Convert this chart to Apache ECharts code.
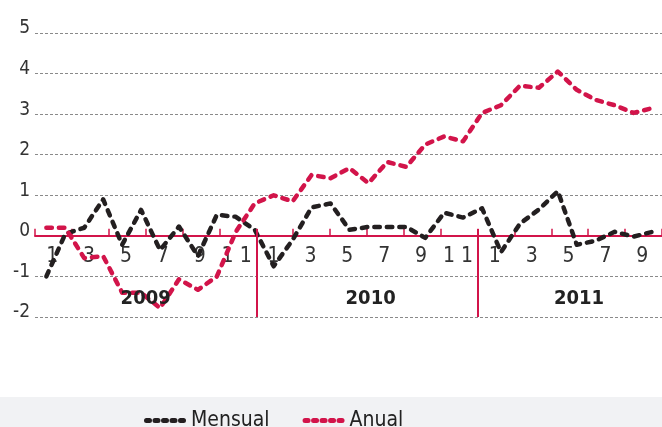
<!DOCTYPE html>
<html>
<head>
<meta charset="utf-8">
<script src="https://cdn.jsdelivr.net/npm/echarts@6/dist/echarts.min.js"></script>
<style>
  html, body { margin: 0; padding: 0; background: #fff; }
  #chart { width: 662px; height: 427px; }
</style>
</head>
<body>
<div id="chart"></div>
<script>
// años y etiquetas de meses (solo impares)
const years = ['2009', '2010', '2011'];
const tickLabels = ['1', '', '3', '', '5', '', '7', '', '9', '', '1 1', ''];

// ene 2009 - sep 2011
const mensual = [
  -1.0, 0.05, 0.2, 0.9, -0.22, 0.64, -0.35, 0.23, -0.5, 0.52, 0.47, 0.15,
  -0.75, -0.1, 0.7, 0.8, 0.15, 0.22, 0.22, 0.22, -0.05, 0.57, 0.45, 0.68,
  -0.4, 0.3, 0.65, 1.1, -0.22, -0.12, 0.1, -0.02, 0.1
];
const anual = [
  0.2, 0.2, -0.55, -0.5, -1.4, -1.4, -1.78, -1.07, -1.33, -1.0, 0.1, 0.8,
  1.0, 0.85, 1.5, 1.42, 1.67, 1.3, 1.82, 1.7, 2.25, 2.45, 2.33, 3.03,
  3.22, 3.7, 3.65, 4.05, 3.6, 3.35, 3.22, 3.03, 3.15
];

// cortes de año (meses desde ene 2009) y centro de cada rótulo
const yearBreaks = [12, 24];
const yearLabelAt = [6, 18.2, 29.5];

const RED = '#d2144a';
const BLACK = '#231f20';
const FONT = "'DejaVu Sans Condensed', 'DejaVu Sans', sans-serif";

// alto del grid y desplazamiento del eje x hasta el cero
const GRID_TOP = 33, GRID_BOTTOM = 110, GRID_H = 427 - GRID_TOP - GRID_BOTTOM;
const Y_MIN = -2, Y_MAX = 5;
const zeroFromBottom = GRID_H * (0 - Y_MIN) / (Y_MAX - Y_MIN);

// categorías del eje (34 casillas, ene 2009 - oct 2011)
let categories = [];
years.forEach(y => {
  for (let m = 1; m <= 12; m++) categories.push(y + '-' + m);
});
categories = categories.slice(0, 34);

// icono de leyenda: cinco píldoras
const pill = x => `M${x + 2.5},0 h3 a2.5,2.5 0 0 1 0,5 h-3 a2.5,2.5 0 0 1 0,-5 z`;
const legendIcon = 'path://' + [0, 8.5, 17, 25.5, 34].map(pill).join(' ');

const chart = echarts.init(document.getElementById('chart'));

const option = {
  animation: false,
  grid: { left: 35, right: 0, top: GRID_TOP, bottom: GRID_BOTTOM },
  graphic: [{
    type: 'rect',
    left: 0, bottom: 0,
    shape: { width: 662, height: 30 },
    style: { fill: '#f1f2f4' },
    z: -1
  }],
  legend: {
    data: [
      { name: 'Mensual', icon: legendIcon },
      { name: 'Anual', icon: legendIcon }
    ],
    left: 139,
    top: 405,
    itemWidth: 42,
    itemHeight: 6,
    itemGap: 33,
    itemStyle: { borderWidth: 0 },
    textStyle: { fontFamily: FONT, fontSize: 21, color: '#222' }
  },
  xAxis: [
    {
      type: 'category',
      data: categories,
      boundaryGap: true,
      offset: -zeroFromBottom,
      axisLine: { onZero: false, lineStyle: { color: RED, width: 2 } },
      axisTick: { interval: 1, length: 6, lineStyle: { color: RED, width: 1.5 } },
      axisLabel: {
        interval: 0,
        formatter: (v, i) => tickLabels[i % 12],
        color: '#333',
        fontFamily: FONT,
        fontSize: 21,
        margin: 10,
        padding: [0, 0, 0, 16]
      },
      splitLine: { show: false }
    },
    {
      // marcas hacia arriba + cortes de año
      type: 'value',
      position: 'top',
      offset: -(GRID_H - zeroFromBottom),
      min: 0,
      max: 34,
      interval: 2,
      axisLine: { show: false, onZero: false },
      axisTick: { show: true, length: 7, lineStyle: { color: RED, width: 1.5 } },
      axisLabel: { show: false },
      splitLine: { show: false }
    },
    {
      // eje de los datos
      type: 'value',
      min: -0.6,
      max: 32.5,
      show: false
    }
  ],
  yAxis: {
    type: 'value',
    min: Y_MIN,
    max: Y_MAX,
    interval: 1,
    axisLine: { show: false },
    axisTick: { show: false },
    axisLabel: {
      color: '#333',
      fontFamily: FONT,
      fontSize: 19,
      margin: 5,
      verticalAlign: 'bottom',
      lineHeight: 9
    },
    splitLine: { lineStyle: { color: '#8a8a8a', width: 1, type: [3, 2] } }
  },
  series: [
    {
      name: 'Mensual',
      type: 'line',
      xAxisIndex: 2,
      data: mensual.map((v, i) => [i, v]),
      symbol: 'none',
      itemStyle: { color: BLACK },
      lineStyle: { color: BLACK, width: 4.5, type: [5.5, 7], cap: 'round', join: 'round' },
      z: 3
    },
    {
      name: 'Anual',
      type: 'line',
      xAxisIndex: 2,
      data: anual.map((v, i) => [i, v]),
      symbol: 'none',
      itemStyle: { color: RED },
      lineStyle: { color: RED, width: 4.5, type: [5.5, 7], cap: 'round', join: 'round' },
      z: 4
    },
    {
      name: 'años',
      type: 'scatter',
      xAxisIndex: 1,
      symbolSize: 0,
      itemStyle: { opacity: 1 },
      data: yearLabelAt.map((x, i) => ({ name: years[i], value: [x, -1.55] })),
      label: {
        show: true,
        position: 'inside',
        formatter: '{b}',
        fontFamily: FONT,
        fontWeight: 'bold',
        fontSize: 20,
        color: '#222'
      },
      markLine: {
        silent: true,
        symbol: ['none', 'none'],
        label: { show: false },
        lineStyle: { color: RED, width: 2, type: 'solid' },
        data: yearBreaks.map(m => [{ coord: [m, 0.17] }, { coord: [m, -2] }])
      },
      z: 5
    }
  ]
};

chart.setOption(option);
</script>
</body>
</html>
